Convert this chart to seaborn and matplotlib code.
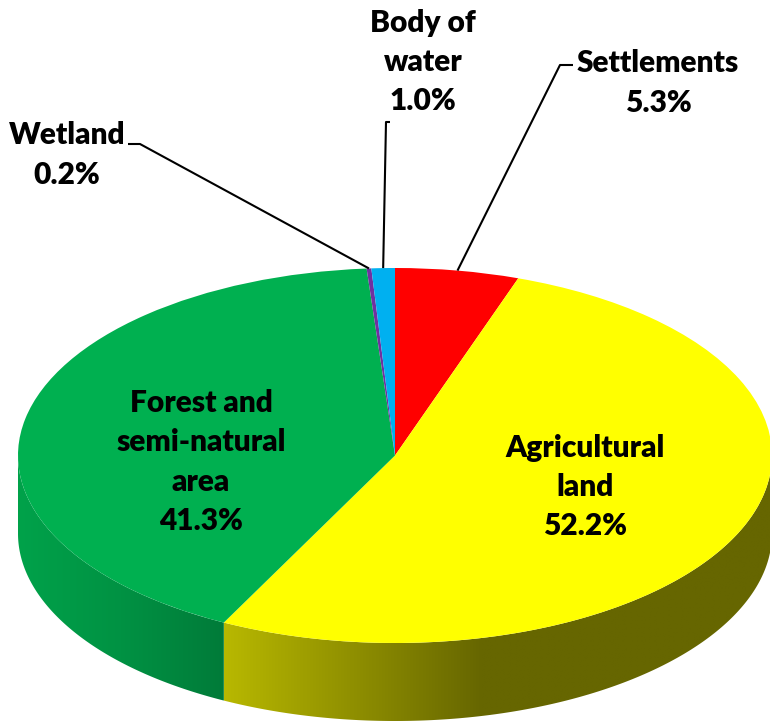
import numpy as np
import matplotlib.pyplot as plt
import seaborn as sns
from matplotlib.patches import Polygon
from matplotlib.colors import LinearSegmentedColormap

# land use shares (%), clockwise from 12 o'clock
categories = ["Settlements", "Agricultural land", "Forest and semi-natural area",
              "Wetland", "Body of water"]
shares = [5.3, 52.2, 41.3, 0.2, 1.0]
label_texts = ["Settlements", "Agricultural\nland", "Forest and\nsemi-natural\narea",
               "Wetland", "Body of\nwater"]
colors = ["#FF0000", "#FFFF00", "#00B050", "#7030A0", "#00B0F0"]

# shading of the visible side wall (light -> dark, left to right)
side_shades = {
    1: [(0.0, "#B8B800"), (0.47, "#666600"), (1.0, "#666600")],
    2: [(0.0, "#00A24A"), (0.5, "#009243"), (1.0, "#007B39")],
}

sns.set_style("white")
plt.rcParams['font.family'] = ['Lato', 'DejaVu Sans']

# geometry of the tilted pie in pixels
W, H = 770, 721
CX, CY = 395, 455.5      # centre of top ellipse
A, B = 377, 187.5        # semi axes
DEPTH = 78 / B           # thickness in y units


def px(x, y):
    return (x - CX) / A, (CY - y) / B


fig = plt.figure(figsize=(W / 100, H / 100), dpi=100)
ax = fig.add_axes([0, 0, 1, 1])

cum = np.concatenate([[0], np.cumsum(shares)]) / 100 * 360

# side walls (front half only)
for i in range(len(shares)):
    lo, hi = max(cum[i], 90), min(cum[i + 1], 270)
    if lo >= hi:
        continue
    t = np.deg2rad(np.linspace(lo, hi, 300))
    top = np.column_stack([np.sin(t), np.cos(t)])
    bot = np.column_stack([np.sin(t), np.cos(t) - DEPTH])[::-1]
    poly = Polygon(np.vstack([top, bot]), closed=True, facecolor="none",
                   edgecolor="none")
    ax.add_patch(poly)
    cmap = LinearSegmentedColormap.from_list(f"side{i}", side_shades[i])
    x0, x1 = np.sin(t).min(), np.sin(t).max()
    y0, y1 = (np.cos(t) - DEPTH).min(), np.cos(t).max()
    im = ax.imshow(np.linspace(0, 1, 256)[None, :], cmap=cmap, aspect="auto",
                   extent=(x0, x1, y0, y1), origin="lower", zorder=0.5,
                   interpolation="bilinear")
    im.set_clip_path(poly)

# top face
ax.pie(shares, colors=colors, startangle=90, counterclock=False, radius=1,
       center=(0, 0), wedgeprops=dict(linewidth=0))

ax.set_aspect("auto")
ax.set_xlim(px(0, 0)[0], px(W, 0)[0])
ax.set_ylim(px(0, H)[1], px(0, 0)[1])
ax.axis("off")

# labels
fs = 21.5
txt = dict(ha="center", va="center", fontsize=fs, fontweight="heavy",
           color="black", linespacing=1.48)
mid = (cum[:-1] + cum[1:]) / 2


def with_pct(i):
    return f"{label_texts[i]}\n{shares[i]:.1f}%"


# inside labels
ax.text(*px(585, 487), with_pct(1), **txt)
ax.text(*px(201, 462), with_pct(2), **txt)

# outside labels with leader lines
ax.text(*px(658, 83), with_pct(0), **txt)
ax.text(*px(67, 155), with_pct(3), **txt)
ax.text(*px(423, 62), with_pct(4), **txt)

leaders = {
    0: [(573, 65), (560, 65)],
    3: [(128, 144), (140, 144)],
    4: [(390, 122), (386, 122)],
}
for i, pts in leaders.items():
    a = np.deg2rad(mid[i])
    xs = [px(*p)[0] for p in pts] + [np.sin(a)]
    ys = [px(*p)[1] for p in pts] + [np.cos(a)]
    ax.plot(xs, ys, color="black", lw=1.5, solid_capstyle="butt", zorder=3)

fig.savefig("out.png", dpi=100)
